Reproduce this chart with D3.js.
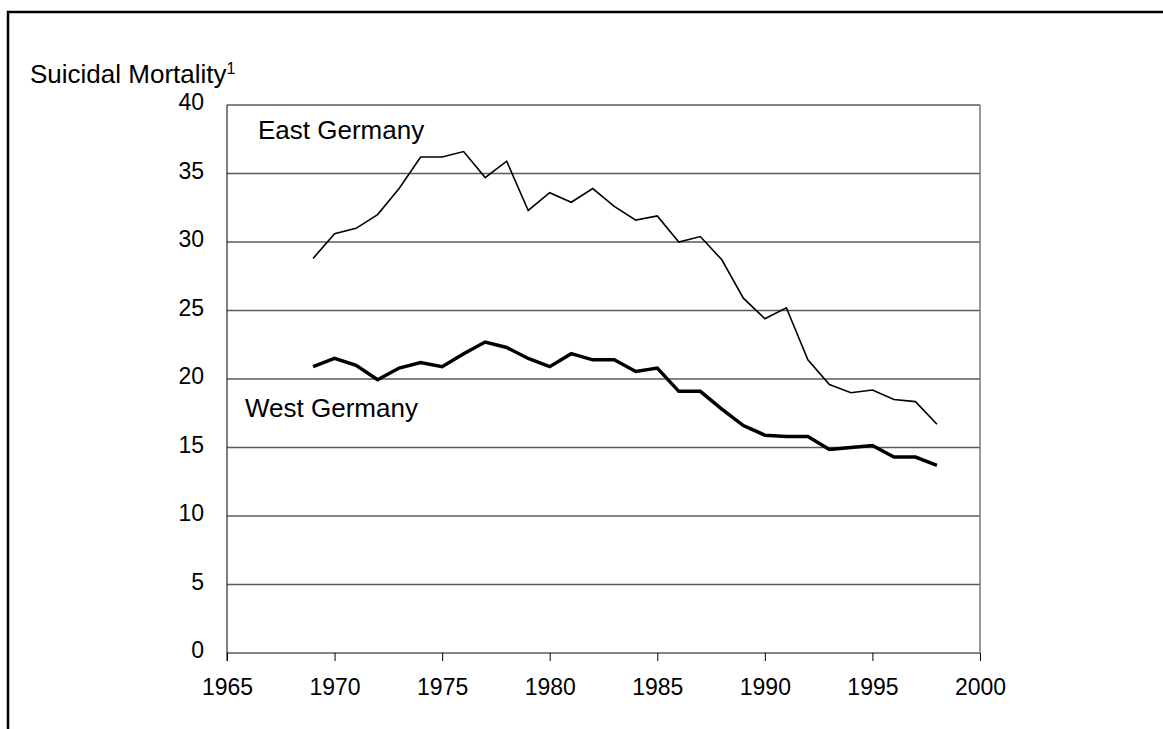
<!DOCTYPE html>
<html>
<head>
<meta charset="utf-8">
<script src="https://cdn.jsdelivr.net/npm/d3@7"></script>
<style>
  body { margin: 0; background: #fff; }
  svg { display: block; font-family: "Liberation Sans", Arial, sans-serif; }
</style>
</head>
<body>
<div id="chart"></div>
<script>
// data
var years = [1969, 1970, 1971, 1972, 1973, 1974, 1975, 1976, 1977, 1978, 1979,
    1980, 1981, 1982, 1983, 1984, 1985, 1986, 1987, 1988, 1989,
    1990, 1991, 1992, 1993, 1994, 1995, 1996, 1997, 1998];

var eastGermany = [28.8, 30.6, 31.0, 32.0, 33.9, 36.2, 36.2, 36.6, 34.7, 35.9, 32.3,
    33.6, 32.9, 33.9, 32.6, 31.6, 31.9, 30.0, 30.4, 28.7, 25.9,
    24.4, 25.2, 21.4, 19.6, 19.0, 19.2, 18.5, 18.35, 16.7];

var westGermany = [20.9, 21.5, 21.0, 19.95, 20.8, 21.2, 20.9, 21.85, 22.7, 22.3, 21.5,
    20.9, 21.85, 21.4, 21.4, 20.55, 20.8, 19.1, 19.1, 17.8, 16.6,
    15.9, 15.8, 15.8, 14.85, 15.0, 15.15, 14.3, 14.3, 13.7];

var xTicks = [1965, 1970, 1975, 1980, 1985, 1990, 1995, 2000];
var yTicks = [0, 5, 10, 15, 20, 25, 30, 35, 40];

var width = 1163,
    height = 729;

var margin = {
    top: 105,
    left: 227,
    bottom: 76,
    right: 183
};
var w = width - margin.left - margin.right,
    h = height - margin.top - margin.bottom;

var svg = d3.select("#chart")
    .append("svg")
    .attr("width", width)
    .attr("height", height);

// outer frame (only top and left show in the picture)
svg.append("path")
    .attr("d", "M8," + height + " V12 H" + width)
    .attr("fill", "none")
    .attr("stroke", "#000")
    .attr("stroke-width", 2.5);

var g = svg.append("g")
    .attr("transform", "translate(" + margin.left + "," + margin.top + ")");

var x = d3.scaleLinear().domain([1965, 2000]).range([0, w]);
var y = d3.scaleLinear().domain([0, 40]).range([h, 0]);

// horizontal gridlines
g.selectAll(".grid")
    .data(yTicks)
    .enter()
    .append("line")
    .attr("class", "grid")
    .attr("x1", 0)
    .attr("x2", w)
    .attr("y1", function (d) { return y(d); })
    .attr("y2", function (d) { return y(d); })
    .attr("stroke", "#5a5a5a")
    .attr("stroke-width", 1.6);

// right border of the plot area
g.append("line")
    .attr("x1", w).attr("x2", w)
    .attr("y1", 0).attr("y2", h)
    .attr("stroke", "#777")
    .attr("stroke-width", 1.5);

// x axis
var xAxis = g.append("g")
    .attr("transform", "translate(0," + h + ")")
    .call(d3.axisBottom(x).tickValues(xTicks).tickFormat(d3.format("d")).tickSize(8).tickPadding(18));
xAxis.select(".domain").remove();
xAxis.selectAll("line").attr("stroke", "#000");
xAxis.selectAll("text")
    .style("font-size", "23px")
    .attr("fill", "#000")
    .attr("font-family", "Liberation Sans, Arial, sans-serif");

// y axis
var yAxis = g.append("g")
    .call(d3.axisLeft(y).tickValues(yTicks).tickSize(0).tickPadding(23));
yAxis.select(".domain").remove();
yAxis.selectAll("text")
    .style("font-size", "23px")
    .attr("fill", "#000")
    .attr("dy", "0.2em")
    .attr("font-family", "Liberation Sans, Arial, sans-serif");

// left axis line, runs a bit below zero
g.append("line")
    .attr("x1", 0).attr("x2", 0)
    .attr("y1", 0).attr("y2", h + 8)
    .attr("stroke", "#000")
    .attr("stroke-width", 1);

var line = function (values) {
    return d3.line()
        .x(function (d, i) { return x(years[i]); })
        .y(function (d) { return y(d); })(values);
};

g.append("path")
    .attr("d", line(eastGermany))
    .attr("fill", "none")
    .attr("stroke", "#000")
    .attr("stroke-width", 1.6)
    .attr("stroke-linejoin", "miter");

g.append("path")
    .attr("d", line(westGermany))
    .attr("fill", "none")
    .attr("stroke", "#000")
    .attr("stroke-width", 3.5)
    .attr("stroke-linejoin", "miter");

// series labels
g.append("text")
    .attr("x", 31)
    .attr("y", 34)
    .style("font-size", "26px")
    .text("East Germany");

g.append("text")
    .attr("x", 18)
    .attr("y", 312)
    .style("font-size", "26px")
    .text("West Germany");

// y axis title with superscript
var title = svg.append("text")
    .attr("x", 30)
    .attr("y", 83)
    .style("font-size", "26px")
    .text("Suicidal Mortality");
title.append("tspan")
    .attr("dy", -9)
    .style("font-size", "16px")
    .text("1");
</script>
</body>
</html>
